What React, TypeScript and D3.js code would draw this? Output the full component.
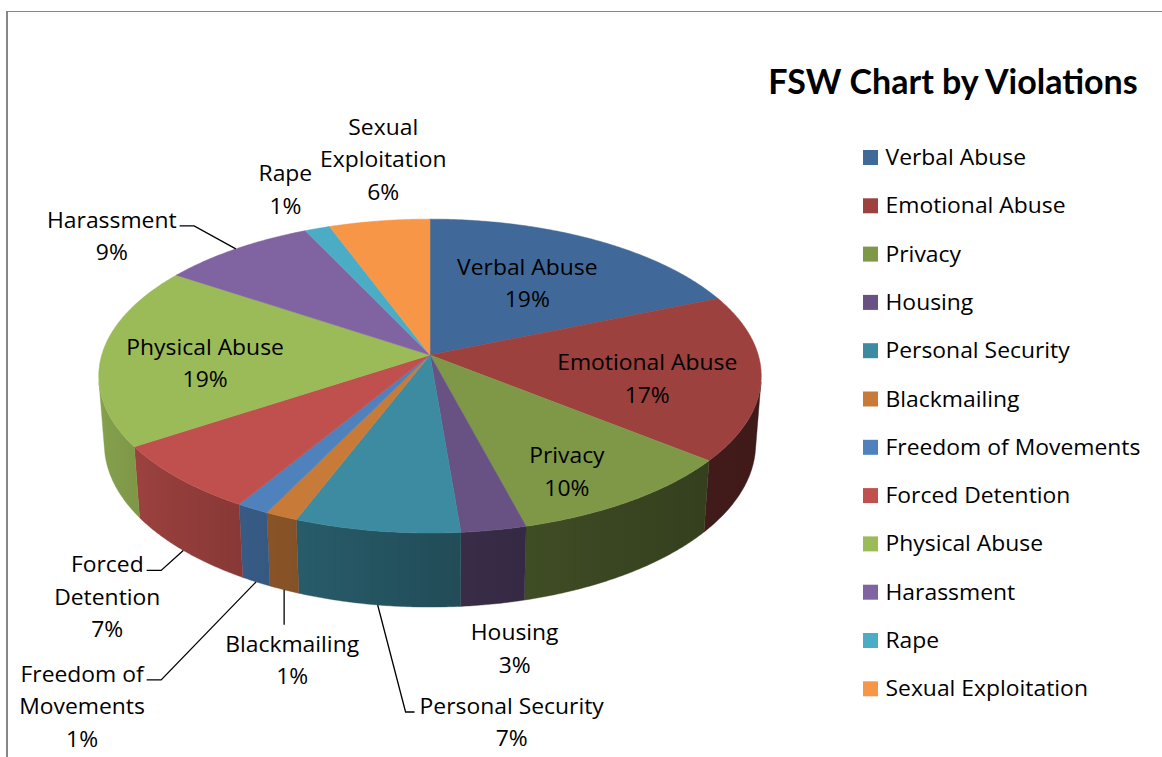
import React, { useEffect, useRef } from "react";
import * as d3 from "d3";

const W = 1162;
const H = 757;

const categories = [
  "Verbal Abuse",
  "Emotional Abuse",
  "Privacy",
  "Housing",
  "Personal Security",
  "Blackmailing",
  "Freedom of Movements",
  "Forced Detention",
  "Physical Abuse",
  "Harassment",
  "Rape",
  "Sexual Exploitation",
];
// share of cases in %
const shares = [18.7, 17.1, 10.1, 2.8, 7.1, 1.4, 1.4, 7.1, 18.7, 8.6, 1.4, 5.6];
const colors = [
  "#406999", "#9c413e", "#7e9848", "#685183", "#3d8ba1", "#c87a39",
  "#4f81bd", "#c0504d", "#9bbb59", "#8064a2", "#4bacc6", "#f79646",
];
// how each data label wraps
const labelLines = [
  ["Verbal Abuse"],
  ["Emotional Abuse"],
  ["Privacy"],
  ["Housing"],
  ["Personal Security"],
  ["Blackmailing"],
  ["Freedom of", "Movements"],
  ["Forced", "Detention"],
  ["Physical Abuse"],
  ["Harassment"],
  ["Rape"],
  ["Sexual", "Exploitation"],
];

// where labels sit relative to their slice (offsets from the anchor point)
const labelPlacement: Record<string, { at: string; dx: number; dy: number; leader?: string }> = {
  "Verbal Abuse": { at: "inside", dx: -5, dy: -8 },
  "Emotional Abuse": { at: "inside", dx: 20, dy: 2 },
  "Privacy": { at: "inside", dx: 22, dy: 25 },
  "Physical Abuse": { at: "inside", dx: -28, dy: 0 },
  "Harassment": { at: "top", dx: -124, dy: -21, leader: "right" },
  "Rape": { at: "top", dx: -32, dy: -47 },
  "Sexual Exploitation": { at: "top", dx: 4, dy: -86 },
  "Housing": { at: "bottom", dx: 22, dy: 36 },
  "Personal Security": { at: "bottom", dx: 134, dy: 109, leader: "left" },
  "Blackmailing": { at: "bottom", dx: 8, dy: 62, leader: "down" },
  "Freedom of Movements": { at: "bottom", dx: -174, dy: 100, leader: "right" },
  "Forced Detention": { at: "bottom", dx: -76, dy: 22, leader: "right" },
};

const title = "FSW Chart by Violations";

// 3d view
const CX = 430, CY = 355, FOCAL = 2160, DIST = 6.58, THICK = 0.236;
const TILT = (28 * Math.PI) / 180;
const sinT = Math.sin(TILT), cosT = Math.cos(TILT);

const FONT = "'Open Sans', sans-serif";
const FS = 21, SX = 1.09, PITCH = 32.5, CAP = 15;

function project(phi: number, r: number, y: number): [number, number] {
  const X = r * Math.sin(phi), Z = r * Math.cos(phi);
  const yc = y * cosT + Z * sinT;
  const depth = DIST + Z * cosT - y * sinT;
  return [CX + (FOCAL * X) / depth, CY - (FOCAL * yc) / depth];
}

function shade(col: string, phi: number) {
  const t = phi - Math.PI / 2;
  const x = (1 - Math.cos(t)) / 2;
  const k = 0.4 + 0.47 * Math.pow(x, 1.5);
  const c = d3.rgb(col);
  return d3.rgb(c.r * k, c.g * k, c.b * k).formatHex();
}

export default function App() {
  const ref = useRef<SVGSVGElement>(null);

  useEffect(() => {
    const svg = d3.select(ref.current);
    svg.selectAll("*").remove();

    svg.append("rect").attr("width", W).attr("height", H).attr("fill", "#fff");
    svg.append("line").attr("x1", 6).attr("x2", W).attr("y1", 11.5).attr("y2", 11.5)
      .attr("stroke", "#878787").attr("stroke-width", 1);
    svg.append("line").attr("x1", 7).attr("x2", 7).attr("y1", 11).attr("y2", H)
      .attr("stroke", "#878787").attr("stroke-width", 2);

    const arcs = d3.pie<number>().sort(null).value((d) => d)(shares);
    const line = d3.line();
    const defs = svg.append("defs");

    // side wall, only the part facing the viewer, lit from the left
    const frontMin = Math.acos(-1 / (DIST * cosT));
    const frontMax = 2 * Math.PI - frontMin;
    const side = svg.append("g");
    arcs.forEach((a, i) => {
      const lo = Math.max(a.startAngle, frontMin);
      const hi = Math.min(a.endAngle, frontMax);
      if (lo >= hi) return;
      const n = Math.max(2, Math.ceil((hi - lo) / 0.008));
      const angles = d3.range(n + 1).map((k) => lo + ((hi - lo) * k) / n);
      const topRim = angles.map((p) => project(p, 1, 0));
      const botRim = angles.map((p) => project(p, 1, -THICK)).reverse();
      const x0 = topRim[0][0], x1 = topRim[n][0];
      const grad = defs.append("linearGradient").attr("id", "side" + i)
        .attr("gradientUnits", "userSpaceOnUse")
        .attr("x1", x0).attr("x2", x1).attr("y1", 0).attr("y2", 0);
      d3.range(0, n + 1, Math.max(1, Math.floor(n / 12))).concat([n]).forEach((k) => {
        grad.append("stop")
          .attr("offset", Math.abs(x1 - x0) < 1e-6 ? 0 : (topRim[k][0] - x0) / (x1 - x0))
          .attr("stop-color", shade(colors[i], angles[k]));
      });
      side.append("path")
        .attr("d", line(topRim.concat(botRim)) + "Z")
        .attr("fill", `url(#side${i})`)
        .attr("stroke", shade(colors[i], (lo + hi) / 2)).attr("stroke-width", 0.4);
    });

    // top faces
    const top = svg.append("g");
    arcs.forEach((a, i) => {
      const n = Math.max(2, Math.ceil((a.endAngle - a.startAngle) / 0.008));
      const pts = [project(0, 0, 0)].concat(
        d3.range(n + 1).map((k) => project(a.startAngle + ((a.endAngle - a.startAngle) * k) / n, 1, 0))
      );
      top.append("path").attr("d", line(pts) + "Z")
        .attr("fill", colors[i]).attr("stroke", colors[i]).attr("stroke-width", 0.5);
    });

    // data labels
    const total = d3.sum(shares);
    const labels = svg.append("g").attr("font-family", FONT).attr("font-size", FS).attr("fill", "#000");
    arcs.forEach((a, i) => {
      const name = categories[i];
      const place = labelPlacement[name];
      const mid = (a.startAngle + a.endAngle) / 2;
      const anchor =
        place.at === "inside" ? project(mid, 0.6, 0) : place.at === "top" ? project(mid, 1, 0) : project(mid, 1, -THICK);
      const x = anchor[0] + place.dx;
      const y0 = anchor[1] + place.dy;
      const lines = labelLines[i].concat([Math.round((shares[i] / total) * 100) + "%"]);
      let firstWidth = 0;
      lines.forEach((t, k) => {
        const node = labels.append("text")
          .attr("transform", `translate(${x},${y0 + k * PITCH}) scale(${SX},1)`)
          .attr("text-anchor", "middle")
          .text(t);
        if (k === 0) firstWidth = (node.node() as SVGTextElement).getComputedTextLength() * SX;
      });
      if (!place.leader) return;
      const yl = y0 - 2;
      let pts: [number, number][] = [];
      if (place.leader === "right") {
        const xr = x + firstWidth / 2;
        pts = [[xr + 3, yl], [xr + 17.5, yl], anchor];
      } else if (place.leader === "left") {
        const xl = x - firstWidth / 2;
        pts = [[xl - 5, yl], [xl - 14, yl], anchor];
      } else {
        pts = [anchor, [anchor[0], y0 - CAP - 12]];
      }
      svg.append("path").attr("d", line(pts)).attr("fill", "none")
        .attr("stroke", "#000").attr("stroke-width", 1.3);
    });

    // title
    svg.append("text").attr("x", 953).attr("y", 94).attr("text-anchor", "middle")
      .attr("font-family", "Lato, sans-serif").attr("font-weight", 700).attr("font-size", 34)
      .text(title);

    // legend
    const legend = svg.append("g").attr("font-family", FONT).attr("font-size", FS);
    categories.forEach((c, i) => {
      const base = 165 + i * 48.3;
      legend.append("rect").attr("x", 863).attr("y", base - 15).attr("width", 15).attr("height", 15)
        .attr("fill", colors[i]);
      legend.append("text").attr("transform", `translate(885.5,${base}) scale(${SX},1)`).text(c);
    });
  }, []);

  return (
    <svg ref={ref} width={W} height={H} style={{ position: "absolute", left: 0, top: 0, display: "block" }} />
  );
}
